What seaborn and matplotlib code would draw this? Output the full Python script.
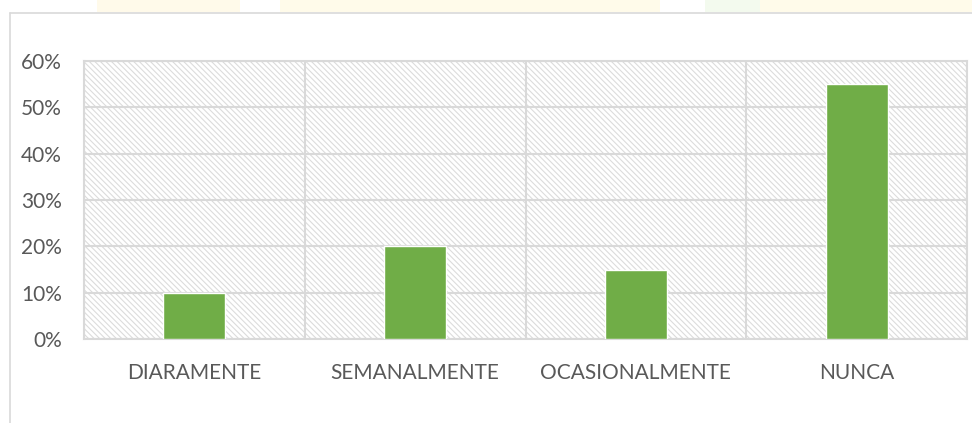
import numpy as np
import pandas as pd
import matplotlib.pyplot as plt
import seaborn as sns
from matplotlib.patches import Rectangle
from matplotlib.lines import Line2D

# data
categories = ["DIARAMENTE", "SEMANALMENTE", "OCASIONALMENTE", "NUNCA"]
values = [0.10, 0.20, 0.15, 0.55]
y_ticks = [0, 0.1, 0.2, 0.3, 0.4, 0.5, 0.6]
y_labels = ["0%", "10%", "20%", "30%", "40%", "50%", "60%"]

sns.set_style("white")
plt.rcParams['font.family'] = ['Lato', 'DejaVu Sans']
plt.rcParams['hatch.linewidth'] = 0.8

df = pd.DataFrame({"cat": categories, "val": values})

fig = plt.figure(figsize=(9.72, 4.23), dpi=100)
ax = fig.add_axes([84/972, 1-339/423, (967-84)/972, (339-61)/423])

# hatched plot background
ax.add_patch(Rectangle((0, 0), 1, 1, transform=ax.transAxes, fill=False,
                       hatch='\\\\\\\\\\\\', edgecolor='#dcdcdc', linewidth=0, zorder=0))

sns.barplot(data=df, x="cat", y="val", color='#70AD47', saturation=1,
            width=0.28, ax=ax, zorder=3)

ax.set_xlim(-0.5, len(categories) - 0.5)
ax.set_ylim(0, 0.6)
ax.set_yticks(y_ticks)
ax.set_yticklabels(y_labels)
ax.set_xlabel("")
ax.set_ylabel("")

grid_c = '#d9d9d9'
for y in y_ticks:
    ax.axhline(y, color=grid_c, lw=1.5, zorder=1)
for x in np.arange(-0.5, len(categories), 1.0):
    ax.axvline(x, color=grid_c, lw=1.5, zorder=1)
for s in ax.spines.values():
    s.set_color(grid_c)
    s.set_linewidth(1.5)

ax.tick_params(axis='both', length=0, labelsize=15, labelcolor='#595959')
ax.tick_params(axis='y', pad=16)
ax.tick_params(axis='x', pad=17)

# outer chart frame (left and top edges visible)
fig.add_artist(Line2D([10/972, 10/972], [0, 1-13/423], color='#d9d9d9', lw=1.2))
fig.add_artist(Line2D([10/972, 1], [1-13/423, 1-13/423], color='#d9d9d9', lw=1.2))

# faint watermark strip above the frame
for x0, x1, c in [(97, 240, '#fffaea'), (280, 660, '#fffbea'),
                  (705, 760, '#f3faee'), (760, 972, '#fffbea')]:
    fig.add_artist(Rectangle((x0/972, 1-12/423), (x1-x0)/972, 12/423,
                             transform=fig.transFigure, color=c, lw=0))

fig.savefig("out.png", dpi=100)
